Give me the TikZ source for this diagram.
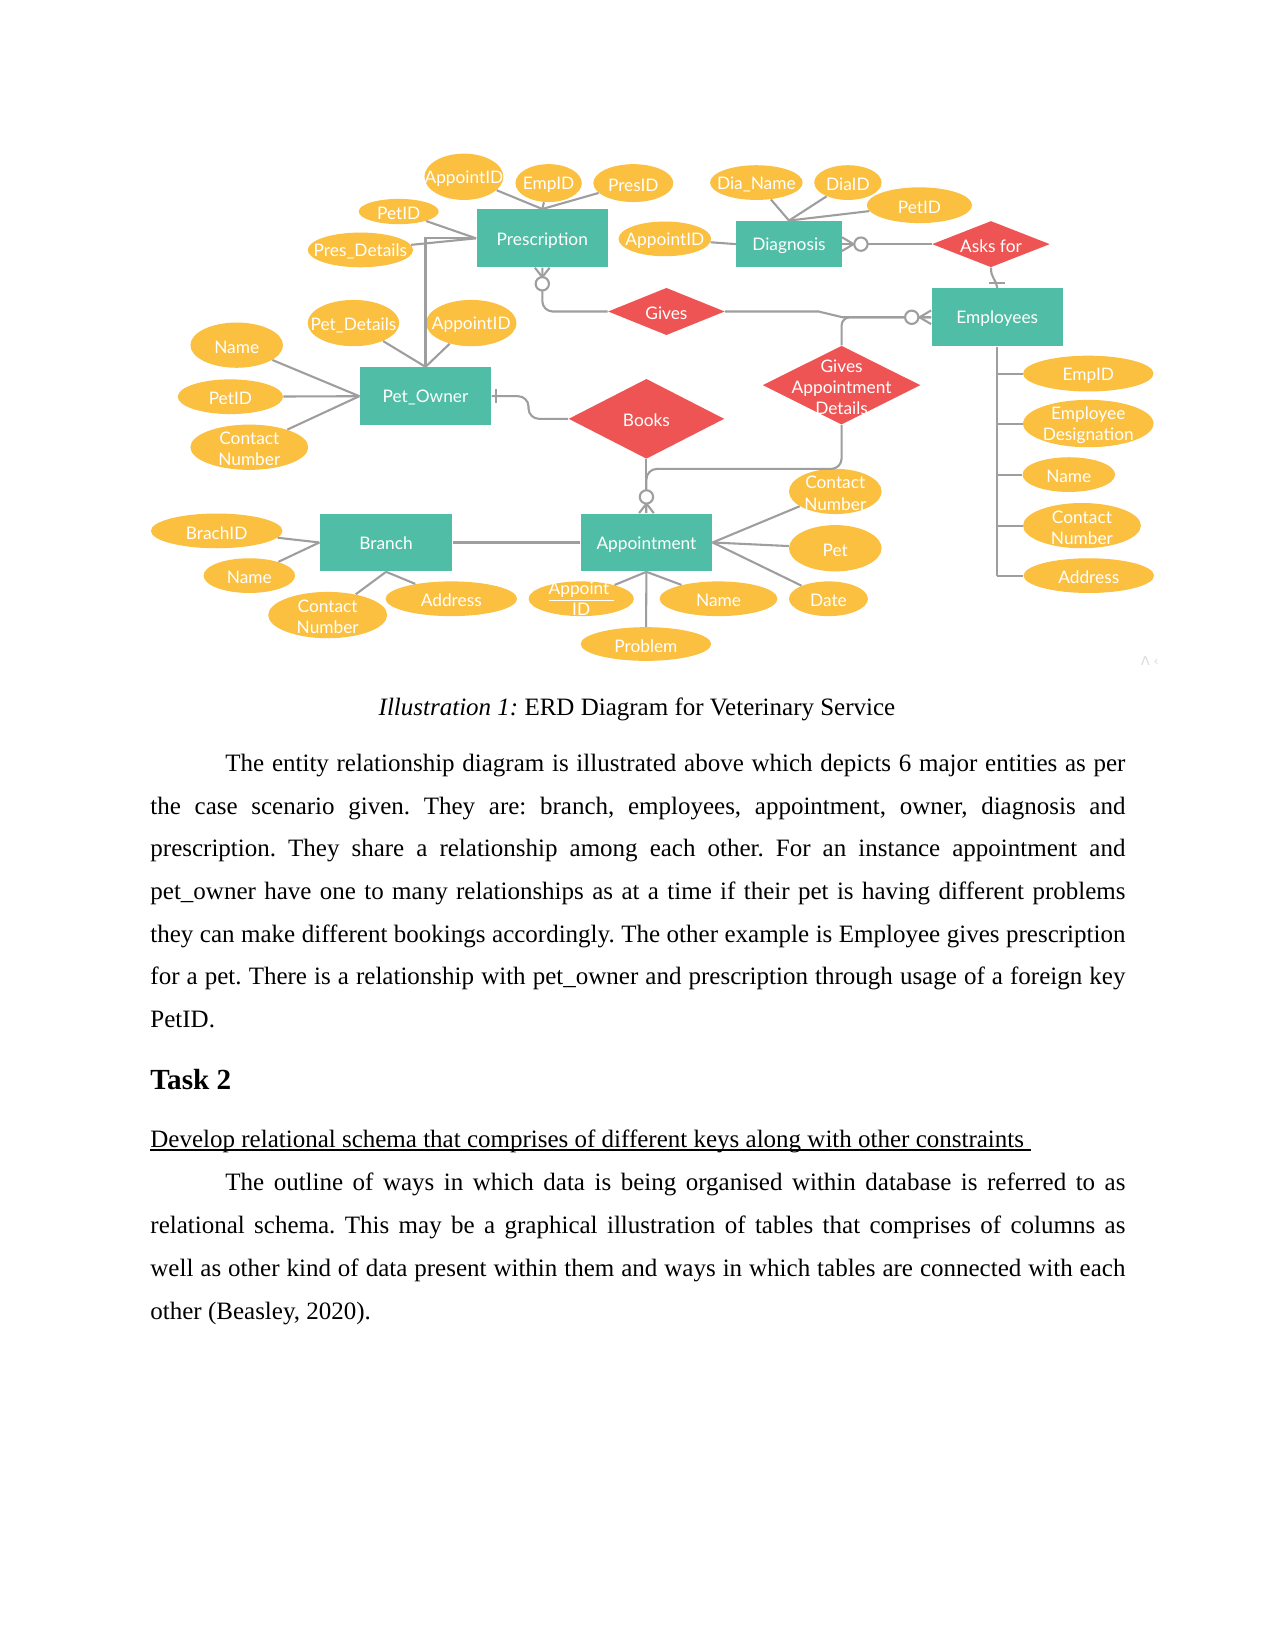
\documentclass[tikz,border=0pt]{standalone}
\usepackage{fontspec}
\setmainfont{Liberation Serif}
\newfontfamily\latof{Lato}
\newfontfamily\wmfont{DejaVu Sans}
\usetikzlibrary{shapes.geometric,calc}
\definecolor{entc}{RGB}{80,190,166}
\definecolor{relc}{RGB}{238,84,84}
\definecolor{attc}{RGB}{251,192,64}
\definecolor{linec}{RGB}{158,158,158}
\frenchspacing
\newcommand\pxu{0.505bp}
\newcommand\attrib[6]{\node[attr, minimum width=#4*\pxu, minimum height=#5*\pxu, label={[lbl,name=#1-t]center:#6}] (#1) at (#2,#3) {};}
\newcommand\relat[6]{\node[rel, minimum width=#4*\pxu, minimum height=#5*\pxu, label={[lbl,name=#1-t]center:#6}] (#1) at (#2,#3) {};}
\newcommand\entity[6]{\node[ent, minimum width=#4*\pxu, minimum height=#5*\pxu] (#1) at (#2,#3) {#6};}
\begin{document}
\frenchspacing
\begin{tikzpicture}[x=0.50495bp, y=-0.50510bp,
 ent/.style={rectangle, fill=entc, text=white, font=\latof\fontsize{8.3bp}{10bp}\selectfont, inner sep=0pt, text height=8bp, text depth=1.6bp},
 attr/.style={ellipse, fill=attc, inner sep=0pt},
 rel/.style={diamond, fill=relc, inner sep=0pt},
 lbl/.style={text=white, font=\latof\fontsize{8.3bp}{10.2bp}\selectfont, align=center, inner sep=0pt, yshift=-0.9bp},
 conn/.style={draw=linec, line width=1bp},
 zero/.style={draw=linec, line width=1bp, fill=white},
 body/.style={font=\fontsize{12bp}{14bp}\selectfont, inner sep=0pt, anchor=base west},
]
\fill[white] (0,0) rectangle (1212,1568);
\useasboundingbox (0,0) rectangle (1212,1568);

% entities
\entity{pres}{515.5}{226.5}{125}{55}{Prescription}
\entity{diag}{750}{232}{100}{44}{Diagnosis}
\entity{emp}{948}{301.5}{125}{55}{Employees}
\entity{owner}{404.5}{376.5}{125}{55}{Pet\_Owner}
\entity{branch}{367}{515.5}{126}{55}{Branch}
\entity{appt}{614.5}{515.5}{125}{55}{Appointment}

% relationships
\relat{gives}{633.5}{296}{111}{45}{Gives}
\relat{asks}{942}{232}{112}{44}{Asks for}
\relat{gad}{800}{366}{150}{75}{Gives\\Appointment\\Details}
\relat{books}{614.5}{398}{148}{76}{Books}

% attributes
\attrib{pa1}{441}{168}{75}{44}{AppointID}
\attrib{pa2}{521.5}{174}{63}{36}{EmpID}
\attrib{pa3}{602}{174}{76}{36}{PresID}
\attrib{pa4}{379}{201}{76}{24}{PetID}
\attrib{pa5}{342.6}{237.5}{100}{33}{Pres\_Details}
\attrib{da1}{632}{227}{88}{33}{AppointID}
\attrib{da2}{719}{173.5}{88}{33}{Dia\_Name}
\attrib{da3}{806}{173.5}{64}{33}{DiaID}
\attrib{da4}{874}{195}{100}{34}{PetID}
\attrib{oa1}{336}{307}{87}{44}{Pet\_Details}
\attrib{oa2}{448}{307}{86}{44}{AppointID}
\attrib{oa3}{225}{328}{88}{43}{Name}
\attrib{oa4}{219}{377}{100}{33}{PetID}
\attrib{oa5}{237}{425}{112}{43}{Contact\\Number}
\attrib{ea1}{1034.5}{355}{124}{34}{EmpID}
\attrib{ea2}{1034.5}{402.5}{124}{45}{Employee\\Designation}
\attrib{ea3}{1016}{451}{88}{33}{Name}
\attrib{ea4}{1028.5}{499.5}{112}{43}{Contact\\Number}
\attrib{ea5}{1035}{547}{124}{33}{Address}
\attrib{ba1}{206}{504.5}{125}{33}{BrachID}
\attrib{ba2}{237}{547}{87}{33}{Name}
\attrib{ba3}{311.5}{584.5}{113}{44}{Contact\\Number}
\attrib{ba4}{429}{569}{125}{33}{Address}
\attrib{aa1}{794}{467}{88}{43}{Contact\\Number}
\attrib{aa2}{794}{521}{88}{44}{Pet}
\attrib{aa3}{787.5}{569}{75}{33}{Date}
\attrib{aa4}{683}{569}{112}{33}{Name}
\attrib{aa5}{552.5}{569}{100}{33}{\underline{Appoint\ }\\\underline{ID}}
\attrib{aa6}{614}{612}{124}{32}{Problem}

% attribute connectors
\foreach \a in {pa1,pa2,pa3} \draw[conn] (\a) -- (pres.north);
\foreach \a in {pa4,pa5} \draw[conn] (\a) -- (pres.west);
\draw[conn] (da1) -- (diag.west);
\foreach \a in {da2,da3,da4} \draw[conn] (\a) -- (diag.north);
\foreach \a in {oa1,oa2} \draw[conn] (\a) -- (owner.north);
\foreach \a in {oa3,oa4,oa5} \draw[conn] (\a) -- (owner.west);
\draw[conn] (emp.south) -- (emp.south |- ea5.west);
\foreach \a in {ea1,ea2,ea3,ea4,ea5} \draw[conn] (emp.south |- \a.west) -- (\a.west);
\foreach \a in {ba1,ba2} \draw[conn] (\a) -- (branch.west);
\foreach \a in {ba3,ba4} \draw[conn] (\a) -- (branch.south);
\foreach \a in {aa1,aa2,aa3} \draw[conn] (\a) -- (appt.east);
\foreach \a in {aa4,aa5,aa6} \draw[conn] (\a) -- (appt.south);

% relationship connectors
\draw[conn] (owner.north) |- (pres.west);
\draw[conn, rounded corners=5bp] (pres.south) |- (gives.west);
\draw[conn] (gives.east) -- (778,296) -- (801,301.5) -- (emp.west);
\draw[conn, rounded corners=4bp] (gad.north) |- (emp.west);
\draw[conn] (diag.east) -- (asks.west);
\draw[conn] (asks.south) .. controls +(0,10) and +(-2,-10) .. (emp.north);
\draw[conn, rounded corners=5bp] (owner.east) -- ++(35,0) |- (books.west);
\draw[conn] (books.south) -- (appt.north);
\draw[conn, rounded corners=5bp] (gad.south) |- ($(appt.north)+(0,-42)$) -- (appt.north);
\draw[conn] (branch.east) -- (appt.west);

% cardinality marks
\draw[conn] ($(pres.south)+(-7,0)$) -- ($(pres.south)+(0,9)$) -- ($(pres.south)+(7,0)$);
\draw[zero] ($(pres.south)+(0,15.3)$) circle[radius=3.2bp];
\draw[conn] ($(emp.west)+(0,-6.5)$) -- ($(emp.west)+(-11,0)$) -- ($(emp.west)+(0,6.5)$);
\draw[zero] ($(emp.west)+(-18.4,0)$) circle[radius=3.2bp];
\draw[conn] ($(diag.east)+(0,-6.5)$) -- ($(diag.east)+(11,0)$) -- ($(diag.east)+(0,6.5)$);
\draw[zero] ($(diag.east)+(18,0)$) circle[radius=3.2bp];
\draw[conn] ($(appt.north)+(-7,0)$) -- ($(appt.north)+(0,-9)$) -- ($(appt.north)+(7,0)$);
\draw[zero] ($(appt.north)+(0,-15.4)$) circle[radius=3.2bp];
\draw[conn] ($(emp.north)+(-7.5,-5)$) -- ($(emp.north)+(7.5,-5)$);
\draw[conn] ($(owner.east)+(4,-6.5)$) -- ($(owner.east)+(4,6.5)$);

\node[font=\wmfont\fontsize{6bp}{6bp}\selectfont, text=black!15, inner sep=0pt] (wm) at (1093,628) {Λ ‹};

% caption and text
\node[font=\fontsize{12bp}{14bp}\selectfont, inner sep=0pt, anchor=base] (cap) at (605.5,679.6) {{\itshape Illustration 1:} ERD Diagram for Veterinary Service};
\node[body] (t1) at (213.9,733) {\hbox to 432bp{The entity relationship diagram is illustrated above which depicts 6 major entities as per}};
\node[body] (t2) at (142.6,773.6) {\hbox to 468bp{the case scenario given. They are: branch, employees, appointment, owner, diagnosis and}};
\node[body] (t3) at (142.6,814.2) {\hbox to 468bp{prescription. They share a relationship among each other. For an instance appointment and}};
\node[body] (t4) at (142.6,854.8) {\hbox to 468bp{pet\_owner have one to many relationships as at a time if their pet is having different problems}};
\node[body] (t5) at (142.6,895.4) {\hbox to 468bp{they can make different bookings accordingly. The other example is Employee gives prescription}};
\node[body] (t6) at (142.6,936) {\hbox to 468bp{for a pet. There is a relationship with pet\_owner and prescription through usage of a foreign key}};
\node[body] (t7) at (142.6,976.6) {PetID.};
\node[body, font=\fontsize{14bp}{16bp}\selectfont\bfseries] (task) at (142.6,1035.5) {Task 2};
\node[body] (head) at (142.6,1090) {Develop relational schema that comprises of different keys along with other constraints\kern3bp};
\draw[line width=0.6bp] ([yshift=-1.4bp]head.base west) -- ([yshift=-1.4bp]head.base east);
\node[body] (t8) at (213.9,1131) {\hbox to 432bp{The outline of ways in which data is being organised within database is referred to as}};
\node[body] (t9) at (142.6,1172) {\hbox to 468bp{relational schema. This may be a graphical illustration of tables that comprises of columns as}};
\node[body] (t10) at (142.6,1213) {\hbox to 468bp{well as other kind of data present within them and ways in which tables are connected with each}};
\node[body] (t11) at (142.6,1254) {other (Beasley, 2020).};
\end{tikzpicture}
\end{document}
